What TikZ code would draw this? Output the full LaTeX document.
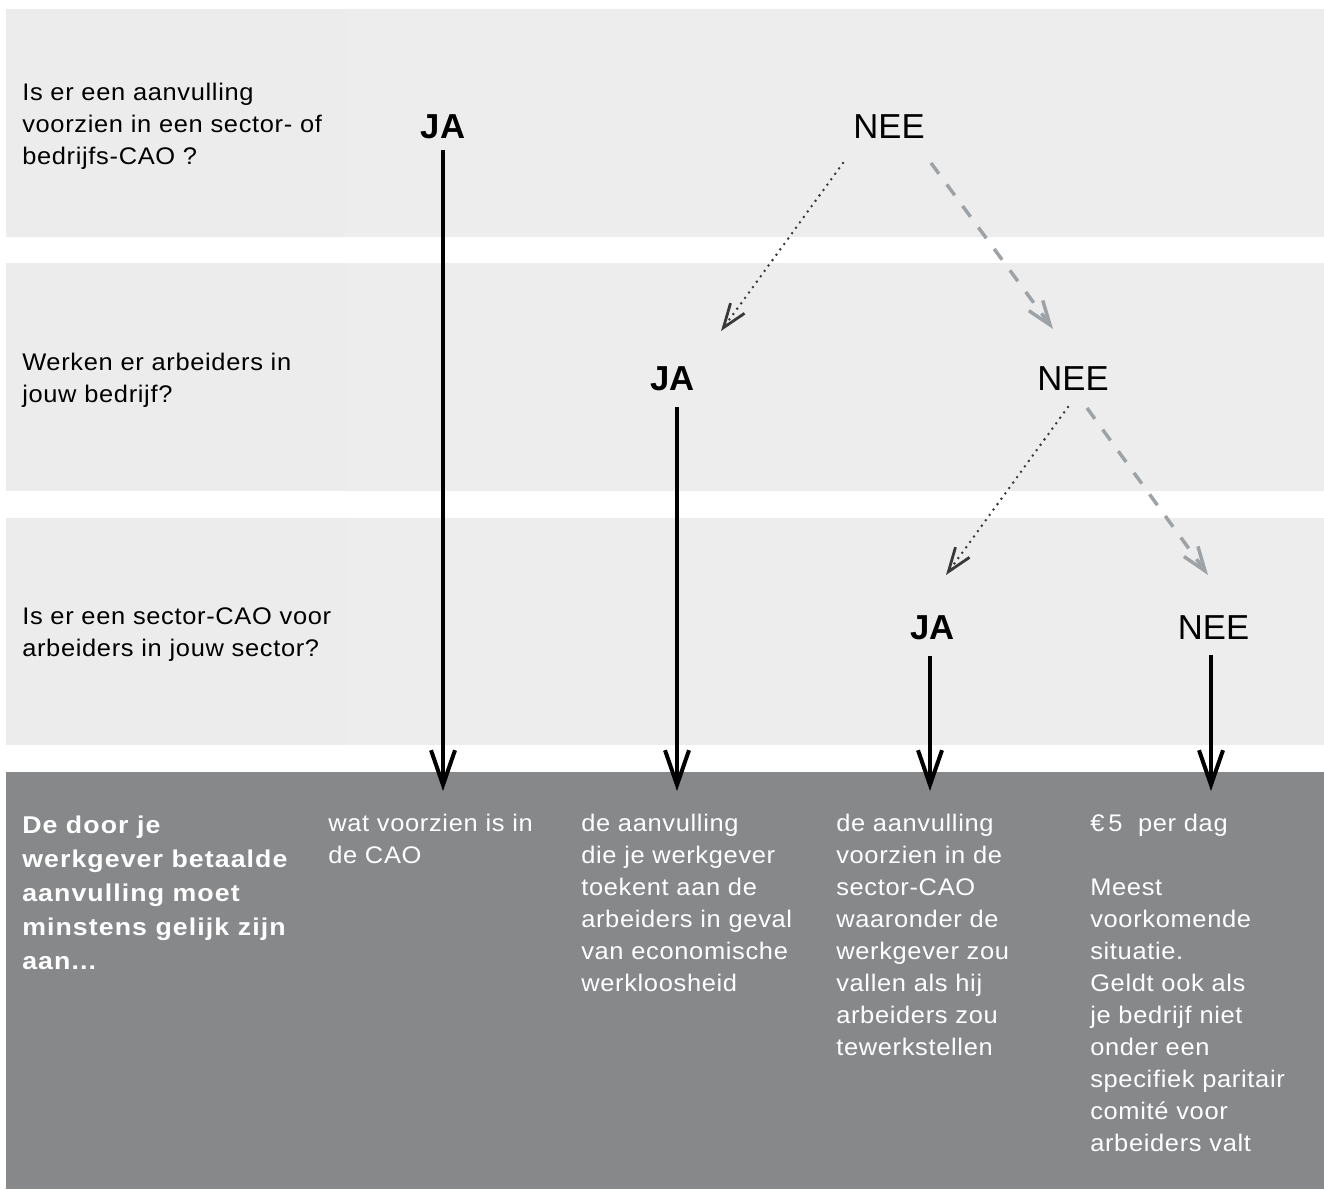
\documentclass[tikz,border=0pt]{standalone}
\usepackage{fontspec}
\setmainfont{Liberation Sans}
\newfontfamily\bodyfont{Liberation Sans}[FakeStretch=1.06, LetterSpace=2.8]
\newfontfamily\leadfont{Liberation Sans}[FakeStretch=1.1, LetterSpace=4.5]
\usetikzlibrary{arrows.meta}
\definecolor{bandlight}{HTML}{EDEDED}
\definecolor{bandleft}{HTML}{EBECEB}
\definecolor{banddark}{HTML}{87888A}
\definecolor{dotcol}{HTML}{383838}
\definecolor{dashcol}{HTML}{9DA2A6}
\begin{document}
\begin{tikzpicture}[x=0.75pt,y=-0.75pt,
  qtext/.style={anchor=north west, inner sep=0, align=left, font=\bodyfont\fontsize{18}{24}\selectfont},
  ans/.style={anchor=base, inner sep=0, font=\fontsize{26}{30}\selectfont},
  ansb/.style={anchor=base, inner sep=0, font=\fontsize{26}{30}\selectfont\bfseries},
  rtext/.style={anchor=north west, inner sep=0, align=left, text=white, font=\bodyfont\fontsize{18}{24}\selectfont},
  leadtext/.style={anchor=north west, inner sep=0, align=left, text=white, font=\leadfont\fontsize{18.2}{25.5}\selectfont\bfseries},
  solidarrow/.style={line width=3pt, -{Straight Barb[length=26pt,width=18pt]}},
  dotarrow/.style={dotcol, line width=2.1pt, line cap=round, dash pattern=on 0pt off 5pt, -{Straight Barb[length=18pt,width=13pt]}},
  dasharrow/.style={dashcol, line width=2.6pt, dash pattern=on 10pt off 10pt, -{Straight Barb[length=18pt,width=13pt]}}
]
\useasboundingbox (0,0) rectangle (1324,1189);
% bands
\fill[bandlight] (6,9) rectangle (1324,237);
\fill[bandleft] (6,9) rectangle (346,237);
\fill[bandlight] (6,263) rectangle (1324,491);
\fill[bandleft] (6,263) rectangle (346,491);
\fill[bandlight] (6,518) rectangle (1324,745);
\fill[bandleft] (6,518) rectangle (346,745);
\fill[banddark] (6,772) rectangle (1324,1189);

% questions
\node[qtext] (q1) at (22,77.6) {\strut Is er een aanvulling\\voorzien in een sector- of\\bedrijfs-CAO ?};
\node[qtext] (q2) at (22,347.6) {\strut Werken er arbeiders in\\jouw bedrijf?};
\node[qtext] (q3) at (22,601.6) {\strut Is er een sector-CAO voor\\arbeiders in jouw sector?};

% answers
\node[ansb] (ja1) at (443,138.5) {JA};
\node[ans] (nee1) at (889,138.5) {NEE};
\node[ansb] (ja2) at (672.5,390.5) {JA};
\node[ans] (nee2) at (1073,390.5) {NEE};
\node[ansb] (ja3) at (932.5,639.5) {JA};
\node[ans] (nee3) at (1213.5,639.5) {NEE};

% results
\node[leadtext] (lead) at (22,809) {\strut De door je\\werkgever betaalde\\aanvulling moet\\minstens gelijk zijn\\aan...};
\node[rtext] (r1) at (328,808.6) {\strut wat voorzien is in\\de CAO};
\node[rtext] (r2) at (581,808.6) {\strut de aanvulling\\die je werkgever\\toekent aan de\\arbeiders in geval\\van economische\\werkloosheid};
\node[rtext] (r3) at (836,808.6) {\strut de aanvulling\\voorzien in de\\sector-CAO\\waaronder de\\werkgever zou\\vallen als hij\\arbeiders zou\\tewerkstellen};
\node[rtext] (r4) at (1090,808.6) {\strut €\,5\ \ per dag\\[24pt]Meest\\voorkomende\\situatie.\\Geldt ook als\\je bedrijf niet\\onder een\\specifiek paritair\\comité voor\\arbeiders valt};

% arrow ends
\coordinate (e1) at (443,791);
\coordinate (e2) at (677,791);
\coordinate (e3) at (930,791);
\coordinate (e4) at (1211,791);
\draw[solidarrow, shorten <=8pt] (ja1.south) -- (e1);
\draw[solidarrow, shorten <=12pt] (ja2.south -| e2) -- (e2);
\draw[solidarrow, shorten <=11.6pt] (ja3.south -| e3) -- (e3);
\draw[solidarrow, shorten <=11.6pt] (nee3.south -| e4) -- (e4);

% diagonal arrows
\coordinate (d1s) at (843,163); \coordinate (d1e) at (721,331);
\coordinate (g1s) at (931,163); \coordinate (g1e) at (1053,329);
\coordinate (d2s) at (1068,407); \coordinate (d2e) at (946,575);
\coordinate (g2s) at (1087,408); \coordinate (g2e) at (1208,575);
\draw[dotarrow] (d1s) -- (d1e);
\draw[dasharrow] (g1s) -- (g1e);
\draw[dotarrow] (d2s) -- (d2e);
\draw[dasharrow] (g2s) -- (g2e);
\end{tikzpicture}
\end{document}
